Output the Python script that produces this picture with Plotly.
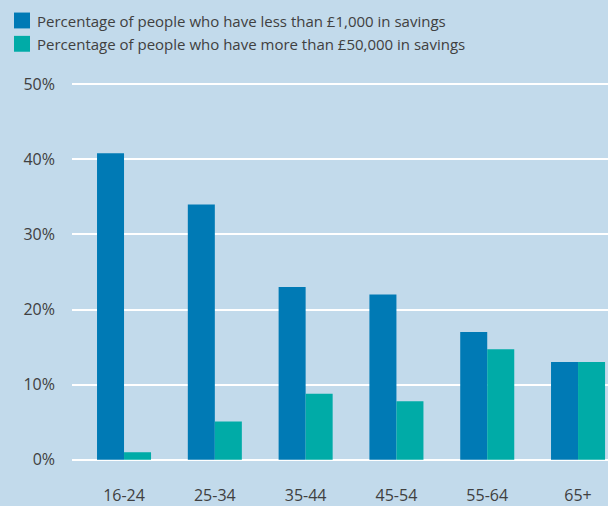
import plotly.graph_objects as go

# Savings by age group (percent of people)
age_groups = ["16-24", "25-34", "35-44", "45-54", "55-64", "65+"]
under_1k = [40.8, 34.0, 23.0, 22.0, 17.0, 13.0]
over_50k = [1.0, 5.1, 8.8, 7.8, 14.7, 13.0]
series_names = [
    "Percentage of people who have less than £1,000 in savings",
    "Percentage of people who have more than £50,000 in savings",
]
y_ticks = [0, 10, 20, 30, 40, 50]

BG = "#c2daeb"
BLUE = "#007ab5"
TEAL = "#00aba7"
TEXT = "#404040"
FONT = "Open Sans"

W, H = 608, 506
L, R, T, B = 72, 0, 82, 41
pw, ph = W - L - R, H - T - B

fig = go.Figure()
fig.add_trace(go.Bar(x=age_groups, y=under_1k, name=series_names[0],
                     marker=dict(color=BLUE, line=dict(width=0))))
fig.add_trace(go.Bar(x=age_groups, y=over_50k, name=series_names[1],
                     marker=dict(color=TEAL, line=dict(width=0))))


def px_x(p):
    return (p - L) / pw


def px_y(p):
    return 1 - (p - T) / ph


# Hand-built legend with large square swatches
shapes = []
annotations = []
for i, (name, col) in enumerate(zip(series_names, [BLUE, TEAL])):
    top = 12 + i * 23.5
    shapes.append(dict(type="rect", xref="paper", yref="paper",
                       x0=px_x(14), x1=px_x(30), y0=px_y(top + 16), y1=px_y(top),
                       fillcolor=col, line=dict(width=0)))
    annotations.append(dict(xref="paper", yref="paper", x=px_x(35), y=px_y(top + 8.5),
                            text=name, showarrow=False, xanchor="left", yanchor="middle",
                            font=dict(family=FONT, size=15, color=TEXT)))

fig.update_layout(
    width=W, height=H,
    margin=dict(l=L, r=R, t=T, b=B, pad=0),
    paper_bgcolor=BG, plot_bgcolor=BG,
    barmode="group", bargap=0.405, bargroupgap=0,
    showlegend=False,
    shapes=shapes, annotations=annotations,
    font=dict(family=FONT, color=TEXT),
    xaxis=dict(
        range=[-0.573, 5.33], showgrid=False, zeroline=False, showline=False,
        ticks="", tickfont=dict(family=FONT, size=16, color=TEXT),
        ticklabelstandoff=22,
    ),
    yaxis=dict(
        range=[-0.3, 50.3], tickvals=y_ticks, ticktext=[f"{v}%" for v in y_ticks],
        showgrid=True, gridcolor="white", gridwidth=2,
        zeroline=True, zerolinecolor="white", zerolinewidth=2,
        showline=False, ticks="",
        tickfont=dict(family=FONT, size=16, color=TEXT),
        ticklabelstandoff=16,
    ),
)

fig.write_html("out.html")
